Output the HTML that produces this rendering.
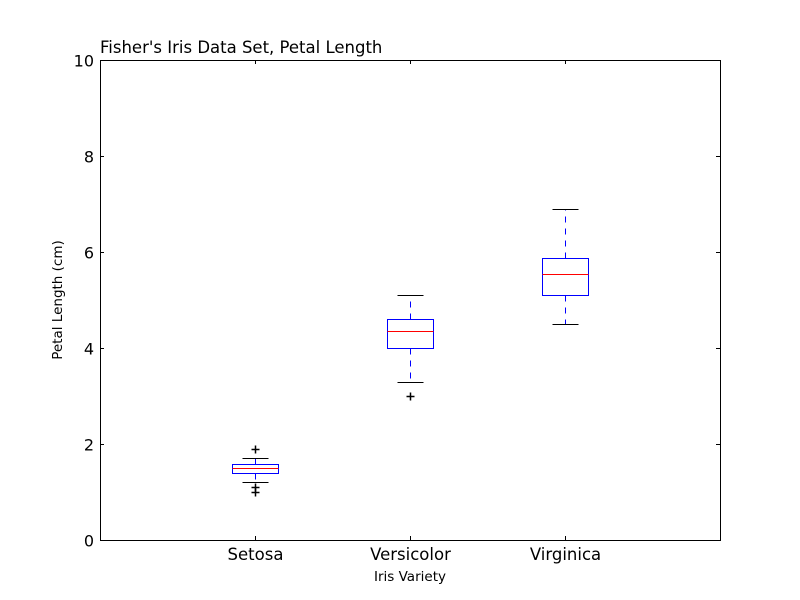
<!DOCTYPE html>
<html><head><meta charset="utf-8"><style>body{margin:0;background:#fff}svg{display:block}text{font-family:"DejaVu Sans","Liberation Sans",sans-serif}</style></head>
<body>
<svg id="chart" width="800" height="600"></svg>
<script>
const categories=["Setosa","Versicolor","Virginica"];
const q1=[1.4,4.0,5.1];
const q3=[1.575,4.6,5.875];
const medians=[1.5,4.35,5.55];
const whiskLow=[1.2,3.3,4.5];
const whiskHigh=[1.7,5.1,6.9];
const fliers=[[1.9,1.1,1.0],[3.0],[]];
const yTicks=[0,2,4,6,8,10];
const L=100,R=720,T=60,B=540;
const xs=i=>L+(i+1)*(R-L)/4+0.5;
const ys=v=>Math.round(B-(v/10)*(B-T))+0.5;
const svg=document.getElementById('chart');
const NS='http://www.w3.org/2000/svg';
function mk(tag,at,parent){const e=document.createElementNS(NS,tag);for(const k in at)e.setAttribute(k,at[k]);(parent||svg).appendChild(e);return e;}
const frame=mk('rect',{x:L+0.5,y:T+0.5,width:R-L,height:B-T,fill:'none',stroke:'#000','stroke-width':1});


yTicks.forEach(v=>{
  const y=ys(v);
  const g=mk('g',{});
  
  
  mk('line',{x1:L,x2:L+4,y1:y,y2:y,stroke:'#000'},g);
  mk('line',{x1:R,x2:R-4,y1:y,y2:y,stroke:'#000'},g);
  const t=mk('text',{x:L-6,y:y+6,'text-anchor':'end','font-size':16},g);t.textContent=v;
});
categories.forEach((c,i)=>{
  const x=xs(i);
  const g=mk('g',{});
  
  
  mk('line',{x1:x,x2:x,y1:B,y2:B-4,stroke:'#000'},g);
  mk('line',{x1:x,x2:x,y1:T,y2:T+4,stroke:'#000'},g);
  const t=mk('text',{x:x,y:560,'text-anchor':'middle','font-size':16.5},g);t.textContent=c;
  mk('line',{x1:x,x2:x,y1:ys(q3[i]),y2:ys(whiskHigh[i]),stroke:'#00f','stroke-dasharray':'6,6'},g);
  mk('line',{x1:x,x2:x,y1:ys(q1[i]),y2:ys(whiskLow[i]),stroke:'#00f','stroke-dasharray':'6,6'},g);
  mk('line',{x1:x-13,x2:x+13,y1:ys(whiskHigh[i]),y2:ys(whiskHigh[i]),stroke:'#000'},g);
  mk('line',{x1:x-13,x2:x+13,y1:ys(whiskLow[i]),y2:ys(whiskLow[i]),stroke:'#000'},g);
  mk('rect',{x:x-23,y:ys(q3[i]),width:46,height:ys(q1[i])-ys(q3[i]),fill:'none',stroke:'#00f'},g);
  mk('line',{x1:x-23,x2:x+23,y1:ys(medians[i]),y2:ys(medians[i]),stroke:'#f00'},g);
  fliers[i].forEach(f=>{const y=ys(f);
    mk('line',{x1:x-4,x2:x+4,y1:y,y2:y,stroke:'#000','stroke-width':1.5},g);
    mk('line',{x1:x,x2:x,y1:y-4,y2:y+4,stroke:'#000','stroke-width':1.5},g);});
});
</script>
<div style="position:absolute;left:0;top:0;width:800px;height:600px;pointer-events:none">
<svg width="800" height="600">
<text x="100" y="53" font-size="16.5">Fisher's Iris Data Set, Petal Length</text>
<text x="410" y="581" font-size="13.5" text-anchor="middle">Iris Variety</text>
<text x="62" y="300" font-size="13.5" text-anchor="middle" transform="rotate(-90 62 300)">Petal Length (cm)</text>
</svg></div>
</body></html>
